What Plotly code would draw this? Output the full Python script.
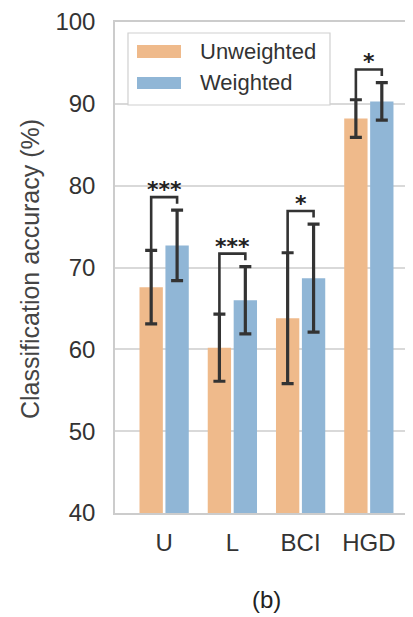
import plotly.graph_objects as go

# ---------------- data ----------------
categories = ["U", "L", "BCI", "HGD"]
series_names = ["Unweighted", "Weighted"]
unweighted = [67.6, 60.2, 63.8, 88.2]
unweighted_sd = [4.5, 4.1, 8.0, 2.3]
weighted = [72.7, 66.0, 68.7, 90.3]
weighted_sd = [4.3, 4.1, 6.6, 2.3]
significance = ["***", "***", "*", "*"]
y_ticks = [40, 50, 60, 70, 80, 90, 100]
y_label = "Classification accuracy (%)"
caption = "(b)"

# ---------------- style ----------------
ORANGE = "#EFBA8B"
BLUE = "#90B6D6"
ERR = "#333333"
GRID = "#d9d9d9"
FONT = "Liberation Sans, Arial, sans-serif"

# page body has an 8px margin: figure is drawn 8px right/down
OFF = 8
W, H = 413 - OFF, 617 - OFF
ML, MR, MT, MB = 115 - OFF, 0, 22 - OFF, 104
PW, PH = W - ML - MR, H - MT - MB


def px(x):
    """reference-screen x pixel -> paper"""
    return (x - OFF - ML) / PW


def py(y):
    """reference-screen y pixel -> paper"""
    return (H - MB - (y - OFF)) / PH


BARGAP = 0.24
GROUPGAP = 0.1
offset = (1 - BARGAP) / 4

idx = list(range(len(categories)))

fig = go.Figure()
fig.add_bar(
    x=idx, y=unweighted, name=series_names[0], marker_color=ORANGE,
    marker_line_width=0,
    error_y=dict(type="data", array=unweighted_sd, color=ERR, thickness=3.2, width=6),
)
fig.add_bar(
    x=idx, y=weighted, name=series_names[1], marker_color=BLUE,
    marker_line_width=0,
    error_y=dict(type="data", array=weighted_sd, color=ERR, thickness=3.2, width=6),
)

shapes = []
annotations = []

# significance brackets
for i in idx:
    top_u = unweighted[i] + unweighted_sd[i]
    top_w = weighted[i] + weighted_sd[i]
    yb = max(top_u, top_w) + 1.6
    xl, xr = i - offset, i + offset
    shapes.append(dict(
        type="path", xref="x", yref="y",
        path=f"M {xl},{top_u} L {xl},{yb} L {xr},{yb} L {xr},{top_w + 0.8}",
        line=dict(color=ERR, width=2.6),
    ))
    annotations.append(dict(
        x=i, y=yb, xref="x", yref="y", text=significance[i], showarrow=False,
        yanchor="bottom", xanchor="center", yshift=-7,
        font=dict(family="DejaVu Sans", size=22, color="#222", weight="bold"),
    ))

# custom legend
shapes.append(dict(type="rect", xref="paper", yref="paper",
                   x0=px(128), x1=px(330), y0=py(105), y1=py(33),
                   line=dict(color="#d0d0d0", width=1.2), fillcolor="white",
                   layer="above"))
for name, color, (sy0, sy1), ty in [
    (series_names[0], ORANGE, (45, 58), 52),
    (series_names[1], BLUE, (77, 89), 83),
]:
    shapes.append(dict(type="rect", xref="paper", yref="paper",
                       x0=px(137), x1=px(181), y0=py(sy1), y1=py(sy0),
                       line=dict(width=0), fillcolor=color, layer="above"))
    annotations.append(dict(x=px(198), y=py(ty), xref="paper", yref="paper",
                            text=name, showarrow=False, xanchor="left",
                            yanchor="middle",
                            font=dict(family=FONT, size=22, color="#333")))

# y label
annotations.append(dict(x=px(30), y=py(269), xref="paper", yref="paper",
                        text=y_label, showarrow=False, textangle=-90,
                        xanchor="center", yanchor="middle",
                        font=dict(family=FONT, size=25, color="#444")))
# caption
annotations.append(dict(x=px(266), y=py(599), xref="paper", yref="paper",
                        text=caption, showarrow=False, xanchor="center",
                        yanchor="middle",
                        font=dict(family=FONT, size=24, color="#222")))

fig.update_layout(
    width=W, height=H,
    margin=dict(l=ML, r=MR, t=MT, b=MB, autoexpand=False),
    paper_bgcolor="white", plot_bgcolor="white",
    barmode="group", bargap=BARGAP, bargroupgap=GROUPGAP,
    showlegend=False,
    shapes=shapes, annotations=annotations,
    font=dict(family=FONT, color="#333"),
)
fig.update_xaxes(
    type="linear", range=[-0.72, 3.647],
    tickmode="array", tickvals=idx, ticktext=categories,
    tickfont=dict(size=24, color="#333"),
    showgrid=False, zeroline=False,
    showline=True, linecolor="#cccccc", linewidth=1.5, mirror=True,
    ticks="", ticklabelstandoff=7,
)
fig.update_yaxes(
    range=[40, 100], tickmode="array", tickvals=y_ticks,
    tickfont=dict(size=24, color="#333"),
    showgrid=True, gridcolor=GRID, gridwidth=1.5, zeroline=False,
    showline=True, linecolor="#cccccc", linewidth=1.5,
    ticks="", ticklabelstandoff=13,
)

fig.write_html("out.html")
